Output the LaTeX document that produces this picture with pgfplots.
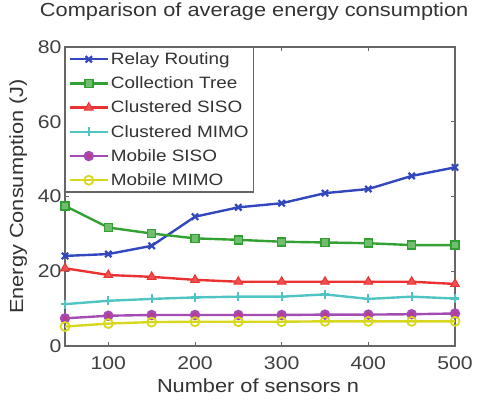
\documentclass[border=0pt]{standalone}
\usepackage{pgfplots}
\pgfplotsset{compat=1.18}
\usepackage{fontspec}
\setmainfont{Liberation Sans}[FakeStretch=1.15]
\definecolor{cblue}{RGB}{50,70,190}
\definecolor{cgreen}{RGB}{50,160,50}
\definecolor{cred}{RGB}{235,50,50}
\definecolor{ccyan}{RGB}{80,195,195}
\definecolor{cpurple}{RGB}{165,75,180}
\definecolor{cyellow}{RGB}{215,215,30}
\begin{document}
\begin{tikzpicture}
\useasboundingbox (-65bp,-55bp) rectangle (417bp,346bp);
\begin{axis}[
  at={(0,0)}, anchor=south west,
  scale only axis, width=390bp, height=299bp,
  xmin=50, xmax=500, ymin=0, ymax=80,
  xtick={100,200,300,400,500}, ytick={0,20,40,60,80},
  tick align=inside, major tick length=4bp,
  axis line style={draw=black!60, line width=1.4pt},
  tick style={black!60, line width=0.8pt},
  tick label style={font=\fontsize{18.5}{20}\selectfont, text=black!75},
  xticklabel style={yshift=-7bp},
  /pgf/number format/assume math mode=true,
  label style={font=\fontsize{19}{21}\selectfont, text=black!80},
  title style={font=\fontsize{19}{21}\selectfont, text=black!80, at={(axis description cs:0.485,1.097)}, anchor=center},
  title={Comparison of average energy consumption},
  xlabel={Number of sensors n},
  ylabel={Energy Consumption (J)},
  xlabel style={at={(axis description cs:0.495,-0.132)}, anchor=center},
  ylabel style={at={(axis description cs:-0.12,0.5)}, anchor=center},
  every axis plot/.append style={line width=2.4pt},
  legend image code/.code={\draw[mark repeat=2,mark phase=2,#1] plot coordinates {(0bp,0bp)(19bp,0bp)(38bp,0bp)};},
  legend style={at={(0,1)}, anchor=north west, font=\fontsize{16.5}{18}\selectfont,
     draw=black!60, line width=1.2pt, row sep=6.8bp, inner sep=3pt, text=black!80},
  legend cell align=left,
]
\addplot[cblue, mark=x, mark size=4.5pt, mark options={line width=2.2pt}] coordinates {
(50,24.1)(100,24.6)(150,26.8)(200,34.6)(250,37.1)(300,38.2)(350,40.9)(400,42.0)(450,45.5)(500,47.8)};
\addlegendentry{Relay Routing}
\addplot[cgreen, mark=square*, mark size=4pt, mark options={fill=cgreen!70!white, line width=1.6pt}] coordinates {
(50,37.5)(100,31.7)(150,30.1)(200,28.8)(250,28.4)(300,27.9)(350,27.7)(400,27.5)(450,27.0)(500,27.0)};
\addlegendentry{Collection Tree}
\addplot[cred, mark=triangle*, mark size=5pt, mark options={fill=cred!85!white, line width=1pt}] coordinates {
(50,20.8)(100,19.0)(150,18.5)(200,17.7)(250,17.2)(300,17.2)(350,17.2)(400,17.2)(450,17.2)(500,16.6)};
\addlegendentry{Clustered SISO}
\addplot[ccyan, mark=+, mark size=4.5pt, mark options={line width=2.2pt}] coordinates {
(50,11.2)(100,12.1)(150,12.6)(200,13.0)(250,13.2)(300,13.2)(350,13.8)(400,12.6)(450,13.2)(500,12.7)};
\addlegendentry{Clustered MIMO}
\addplot[cpurple, mark=*, mark size=4pt, mark options={fill=cpurple!80!red}] coordinates {
(50,7.4)(100,8.1)(150,8.3)(200,8.3)(250,8.3)(300,8.3)(350,8.4)(400,8.4)(450,8.5)(500,8.7)};
\addlegendentry{Mobile SISO}
\addplot[cyellow, mark=o, mark size=4.5pt, mark options={line width=1.8pt}] coordinates {
(50,5.2)(100,6.0)(150,6.4)(200,6.5)(250,6.5)(300,6.5)(350,6.6)(400,6.6)(450,6.6)(500,6.6)};
\addlegendentry{Mobile MIMO}
\end{axis}
\end{tikzpicture}
\end{document}
